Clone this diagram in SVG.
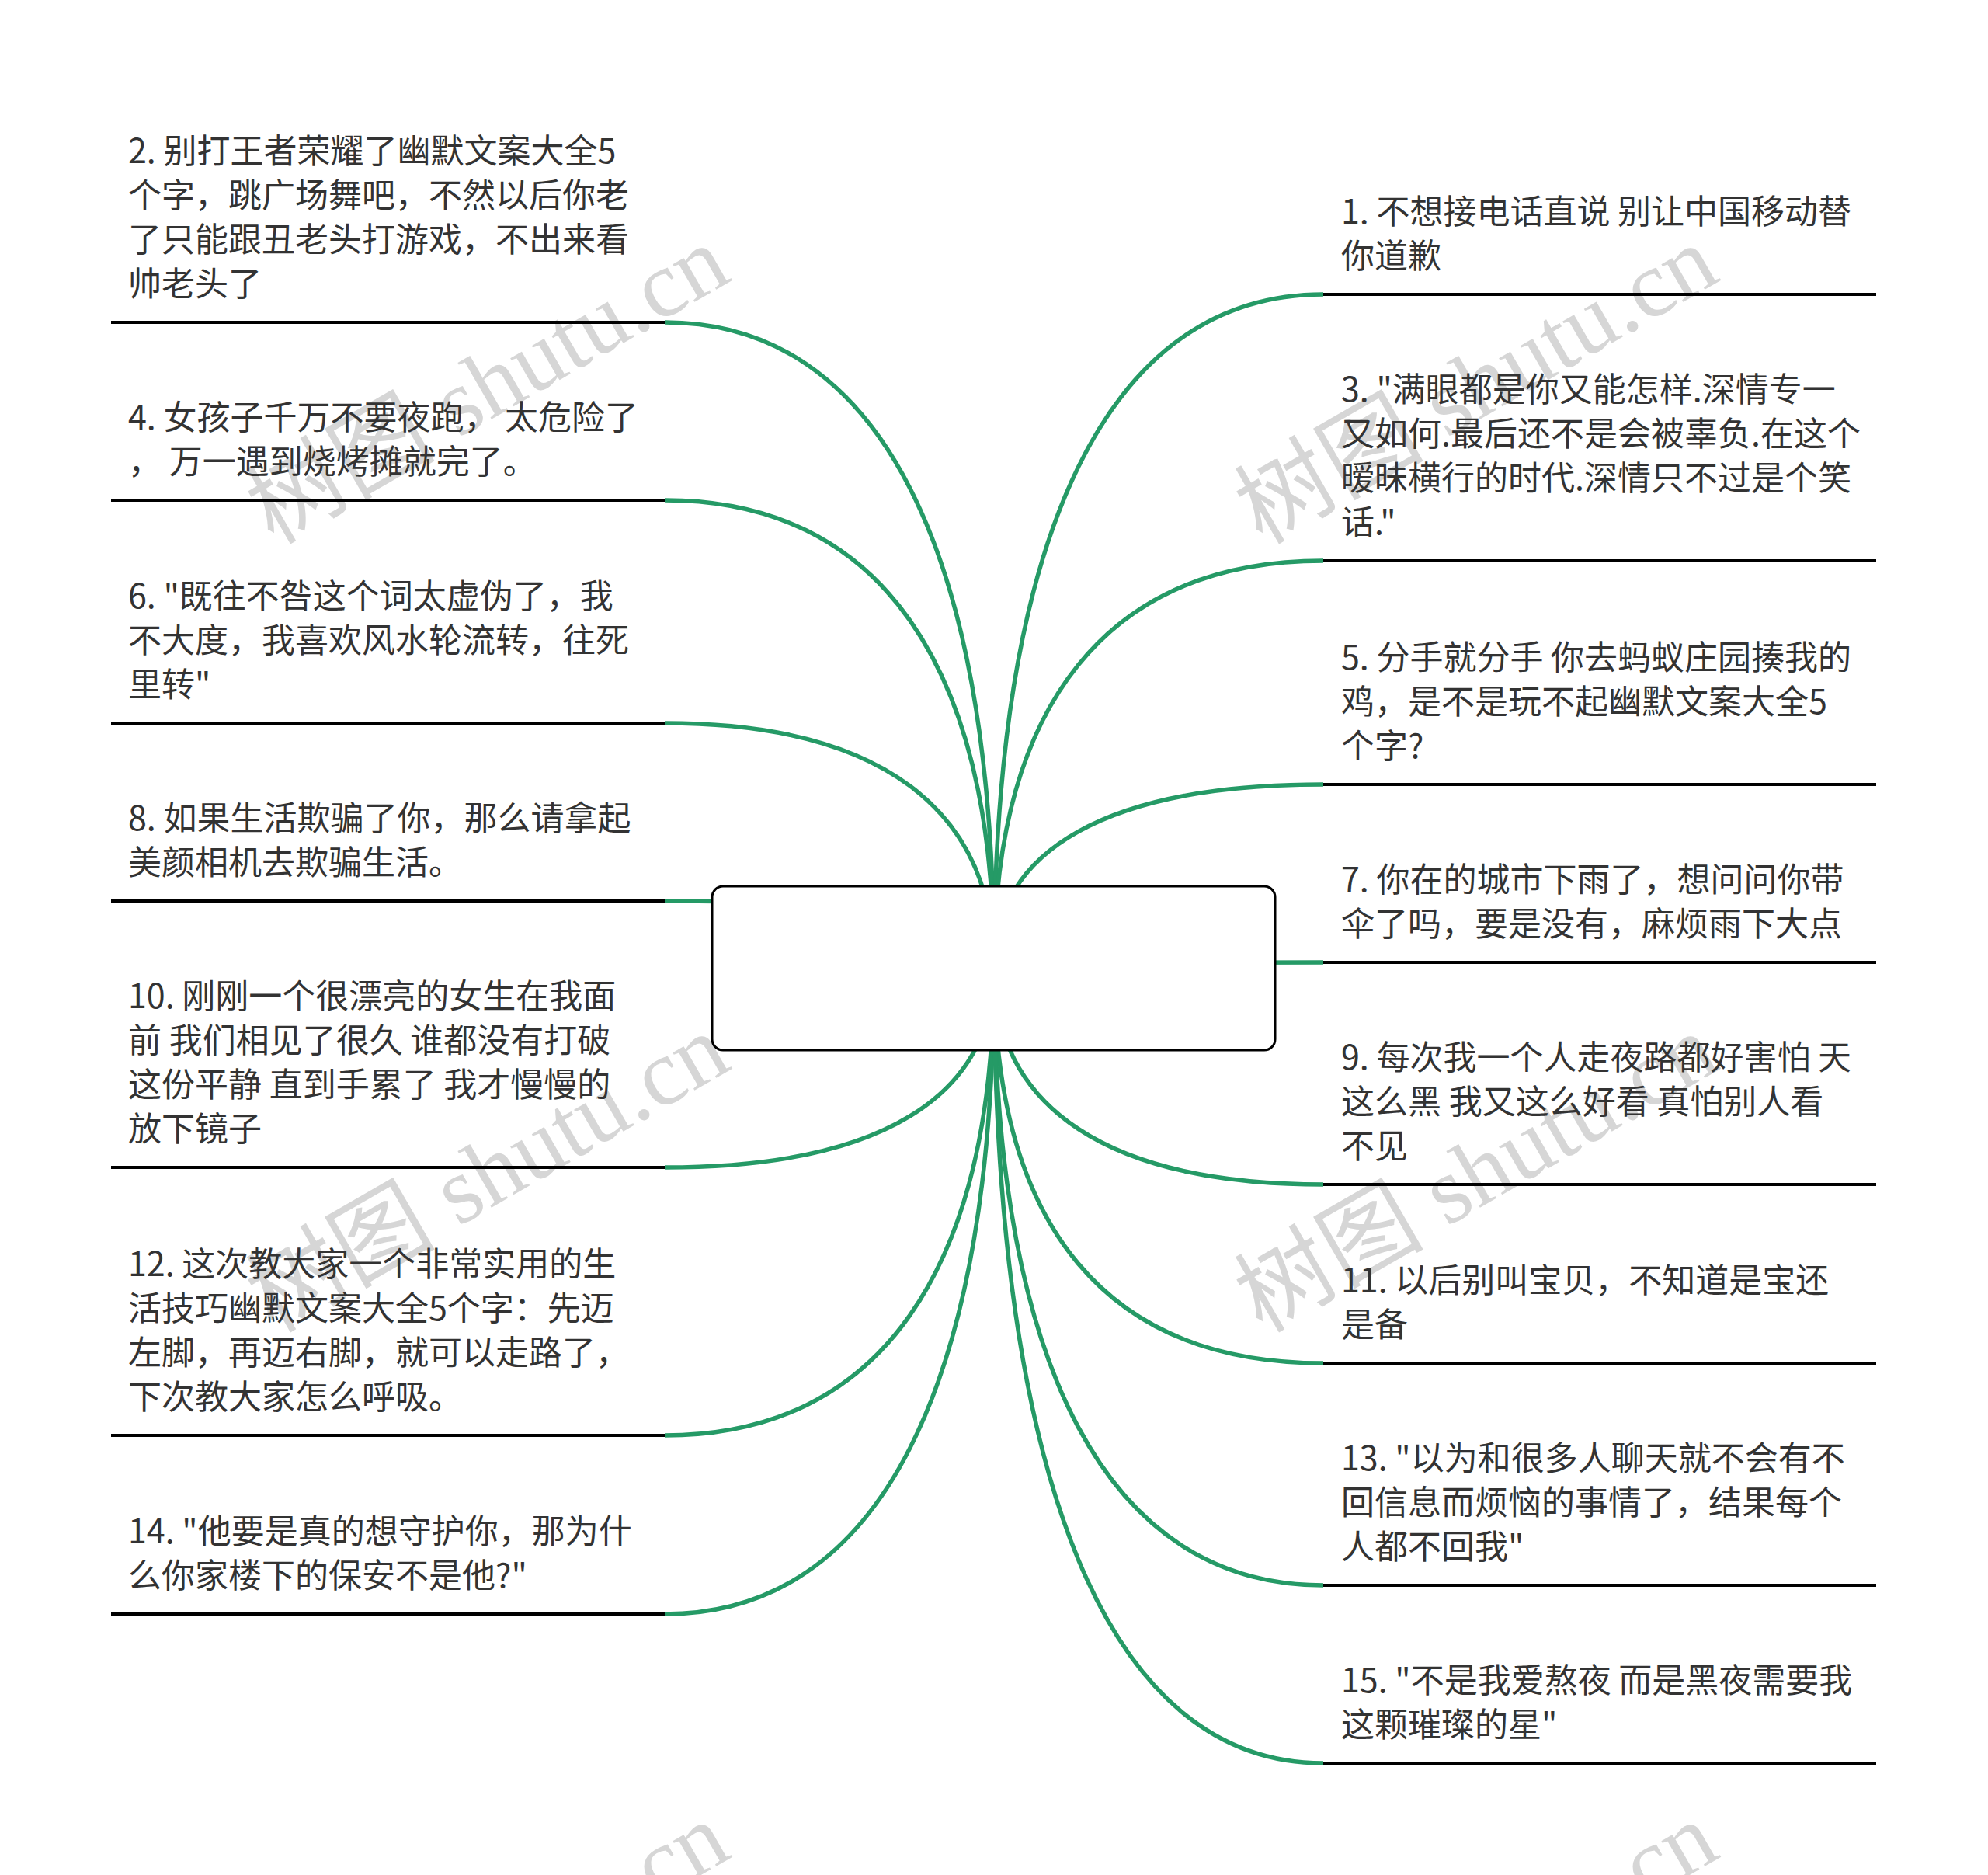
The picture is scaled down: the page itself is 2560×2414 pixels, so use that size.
<svg xmlns="http://www.w3.org/2000/svg" width="2560" height="2414" viewBox="0 0 2560 2414">
<defs>
<style>
.t{font-family:"Noto Sans CJK SC","Noto Sans",sans-serif;font-size:43px;fill:#333333}
.ul{stroke:#000000;stroke-width:4;fill:none}
.c{stroke:#259a66;stroke-width:5.5;fill:none}
.wm{font-family:"Liberation Serif","Noto Sans CJK SC",serif;font-size:122px;fill:#d6d6d6}
.box{fill:#ffffff;stroke:#000000;stroke-width:3}
</style>
</defs>
<rect x="0" y="0" width="2560" height="2414" fill="#ffffff"/>
<g id="watermarks">
<text class="wm" x="352" y="702" transform="rotate(-30 352 702)">树图 shutu.cn</text>
<text class="wm" x="1625" y="702" transform="rotate(-30 1625 702)">树图 shutu.cn</text>
<text class="wm" x="352" y="1717" transform="rotate(-30 352 1717)">树图 shutu.cn</text>
<text class="wm" x="1625" y="1717" transform="rotate(-30 1625 1717)">树图 shutu.cn</text>
<text class="wm" x="352" y="2732" transform="rotate(-30 352 2732)">树图 shutu.cn</text>
<text class="wm" x="1625" y="2732" transform="rotate(-30 1625 2732)">树图 shutu.cn</text>
</g>
<g id="connectors">
<path class="c" d="M856,415 C1132,415 1280,706 1280,1246"/>
<path class="c" d="M856,644 C1132,644 1280,855 1280,1246"/>
<path class="c" d="M856,931 C1132,931 1280,1041 1280,1246"/>
<path class="c" d="M856,1160 C1132,1160 1280,1190 1280,1246"/>
<path class="c" d="M856,1503 C1132,1503 1280,1413 1280,1246"/>
<path class="c" d="M856,1848 C1132,1848 1280,1637 1280,1246"/>
<path class="c" d="M856,2078 C1132,2078 1280,1787 1280,1246"/>
<path class="c" d="M1704,379 C1428,379 1280,683 1280,1246"/>
<path class="c" d="M1704,722 C1428,722 1280,905 1280,1246"/>
<path class="c" d="M1704,1010 C1428,1010 1280,1093 1280,1246"/>
<path class="c" d="M1704,1239 C1428,1239 1280,1241 1280,1246"/>
<path class="c" d="M1704,1525 C1428,1525 1280,1427 1280,1246"/>
<path class="c" d="M1704,1755 C1428,1755 1280,1583 1280,1246"/>
<path class="c" d="M1704,2041 C1428,2041 1280,1763 1280,1246"/>
<path class="c" d="M1704,2270 C1428,2270 1280,1912 1280,1246"/>
</g>
<g id="root">
<rect class="box" x="917" y="1141" width="725" height="211" rx="14" ry="14"/>
</g>
<g id="n2">
<text class="t"><tspan x="165" y="210">2. 别打王者荣耀了幽默文案大全5</tspan><tspan x="165" y="267">个字，跳广场舞吧，不然以后你老</tspan><tspan x="165" y="324">了只能跟丑老头打游戏，不出来看</tspan><tspan x="165" y="381">帅老头了</tspan></text>
<line class="ul" x1="143" y1="415" x2="856" y2="415"/>
</g>
<g id="n4">
<text class="t"><tspan x="165" y="553">4. 女孩子千万不要夜跑，  太危险了</tspan><tspan x="165" y="610">，  万一遇到烧烤摊就完了。</tspan></text>
<line class="ul" x1="143" y1="644" x2="856" y2="644"/>
</g>
<g id="n6">
<text class="t"><tspan x="165" y="783">6. "既往不咎这个词太虚伪了，我</tspan><tspan x="165" y="840">不大度，我喜欢风水轮流转，往死</tspan><tspan x="165" y="897">里转"</tspan></text>
<line class="ul" x1="143" y1="931" x2="856" y2="931"/>
</g>
<g id="n8">
<text class="t"><tspan x="165" y="1069">8. 如果生活欺骗了你，那么请拿起</tspan><tspan x="165" y="1126">美颜相机去欺骗生活。</tspan></text>
<line class="ul" x1="143" y1="1160" x2="856" y2="1160"/>
</g>
<g id="n10">
<text class="t"><tspan x="165" y="1298">10. 刚刚一个很漂亮的女生在我面</tspan><tspan x="165" y="1355">前 我们相见了很久 谁都没有打破</tspan><tspan x="165" y="1412">这份平静 直到手累了 我才慢慢的</tspan><tspan x="165" y="1469">放下镜子</tspan></text>
<line class="ul" x1="143" y1="1503" x2="856" y2="1503"/>
</g>
<g id="n12">
<text class="t"><tspan x="165" y="1643">12. 这次教大家一个非常实用的生</tspan><tspan x="165" y="1700">活技巧幽默文案大全5个字：先迈</tspan><tspan x="165" y="1757">左脚，再迈右脚，就可以走路了，</tspan><tspan x="165" y="1814">下次教大家怎么呼吸。</tspan></text>
<line class="ul" x1="143" y1="1848" x2="856" y2="1848"/>
</g>
<g id="n14">
<text class="t"><tspan x="165" y="1987">14. "他要是真的想守护你，那为什</tspan><tspan x="165" y="2044">么你家楼下的保安不是他?"</tspan></text>
<line class="ul" x1="143" y1="2078" x2="856" y2="2078"/>
</g>
<g id="n1">
<text class="t"><tspan x="1727" y="288">1. 不想接电话直说 别让中国移动替</tspan><tspan x="1727" y="345">你道歉</tspan></text>
<line class="ul" x1="1704" y1="379" x2="2416" y2="379"/>
</g>
<g id="n3">
<text class="t"><tspan x="1727" y="517">3. "满眼都是你又能怎样.深情专一</tspan><tspan x="1727" y="574">又如何.最后还不是会被辜负.在这个</tspan><tspan x="1727" y="631">暧昧横行的时代.深情只不过是个笑</tspan><tspan x="1727" y="688">话."</tspan></text>
<line class="ul" x1="1704" y1="722" x2="2416" y2="722"/>
</g>
<g id="n5">
<text class="t"><tspan x="1727" y="862">5. 分手就分手 你去蚂蚁庄园揍我的</tspan><tspan x="1727" y="919">鸡，是不是玩不起幽默文案大全5</tspan><tspan x="1727" y="976">个字?</tspan></text>
<line class="ul" x1="1704" y1="1010" x2="2416" y2="1010"/>
</g>
<g id="n7">
<text class="t"><tspan x="1727" y="1148">7. 你在的城市下雨了，想问问你带</tspan><tspan x="1727" y="1205">伞了吗，要是没有，麻烦雨下大点</tspan></text>
<line class="ul" x1="1704" y1="1239" x2="2416" y2="1239"/>
</g>
<g id="n9">
<text class="t"><tspan x="1727" y="1377">9. 每次我一个人走夜路都好害怕 天</tspan><tspan x="1727" y="1434">这么黑 我又这么好看 真怕别人看</tspan><tspan x="1727" y="1491">不见</tspan></text>
<line class="ul" x1="1704" y1="1525" x2="2416" y2="1525"/>
</g>
<g id="n11">
<text class="t"><tspan x="1727" y="1664">11. 以后别叫宝贝，不知道是宝还</tspan><tspan x="1727" y="1721">是备</tspan></text>
<line class="ul" x1="1704" y1="1755" x2="2416" y2="1755"/>
</g>
<g id="n13">
<text class="t"><tspan x="1727" y="1893">13. "以为和很多人聊天就不会有不</tspan><tspan x="1727" y="1950">回信息而烦恼的事情了，结果每个</tspan><tspan x="1727" y="2007">人都不回我"</tspan></text>
<line class="ul" x1="1704" y1="2041" x2="2416" y2="2041"/>
</g>
<g id="n15">
<text class="t"><tspan x="1727" y="2179">15. "不是我爱熬夜 而是黑夜需要我</tspan><tspan x="1727" y="2236">这颗璀璨的星"</tspan></text>
<line class="ul" x1="1704" y1="2270" x2="2416" y2="2270"/>
</g>
</svg>
